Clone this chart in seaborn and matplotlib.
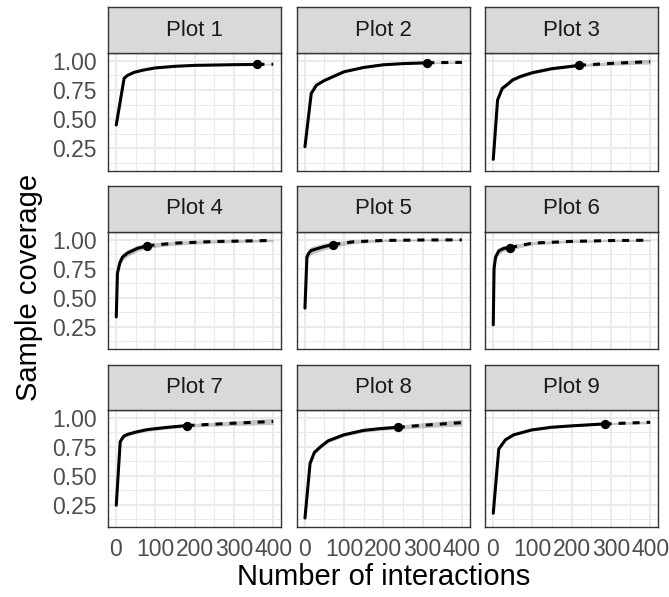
import matplotlib
matplotlib.use("Agg")
import matplotlib.pyplot as plt
from matplotlib.ticker import FixedLocator
import pandas as pd
import seaborn as sns

# ---- data: sample-coverage curves (interpolated up to the observed sample, extrapolated beyond) ----
plots = [f"Plot {i}" for i in range(1, 10)]

x_p1 = [1, 21, 30, 46, 70, 100, 150, 200, 300, 360, 400]
y_p1 = [0.45, 0.85, 0.875, 0.90, 0.92, 0.938, 0.952, 0.960, 0.966, 0.968, 0.970]
ci_p1 = [0.0, 0.005, 0.005, 0.005, 0.004, 0.004, 0.004, 0.004, 0.004, 0.004, 0.005]

x_p2 = [1, 17, 30, 50, 100, 150, 200, 250, 312, 350, 400]
y_p2 = [0.264, 0.72, 0.79, 0.83, 0.905, 0.942, 0.965, 0.975, 0.982, 0.984, 0.986]
ci_p2 = [0.0, 0.008, 0.008, 0.008, 0.007, 0.006, 0.006, 0.006, 0.006, 0.008, 0.010]

x_p3 = [1, 12, 24, 36, 50, 70, 100, 150, 200, 219, 300, 400]
y_p3 = [0.156, 0.664, 0.764, 0.795, 0.835, 0.865, 0.897, 0.932, 0.952, 0.961, 0.977, 0.992]
ci_p3 = [0.0, 0.016, 0.016, 0.016, 0.015, 0.014, 0.013, 0.012, 0.012, 0.012, 0.016, 0.020]

x_p4 = [1, 4, 10, 17, 30, 55, 80, 150, 250, 400]
y_p4 = [0.333, 0.71, 0.80, 0.85, 0.885, 0.925, 0.947, 0.970, 0.984, 0.993]
ci_p4 = [0.0, 0.03, 0.032, 0.032, 0.03, 0.026, 0.022, 0.018, 0.014, 0.010]

x_p5 = [1, 6, 10, 16, 30, 50, 73, 125, 200, 300, 400]
y_p5 = [0.409, 0.85, 0.88, 0.905, 0.92, 0.94, 0.958, 0.982, 0.993, 0.997, 0.998]
ci_p5 = [0.0, 0.032, 0.034, 0.034, 0.032, 0.028, 0.024, 0.016, 0.010, 0.007, 0.006]

x_p6 = [1, 3, 7, 15, 28, 44, 100, 200, 300, 400]
y_p6 = [0.264, 0.75, 0.85, 0.903, 0.925, 0.932, 0.970, 0.985, 0.992, 0.995]
ci_p6 = [0.0, 0.026, 0.028, 0.028, 0.025, 0.022, 0.015, 0.010, 0.008, 0.007]

x_p7 = [1, 11, 20, 30, 50, 80, 130, 182, 300, 400]
y_p7 = [0.244, 0.792, 0.84, 0.856, 0.875, 0.897, 0.916, 0.932, 0.952, 0.967]
ci_p7 = [0.0, 0.016, 0.016, 0.016, 0.015, 0.014, 0.014, 0.014, 0.020, 0.026]

x_p8 = [1, 14, 25, 41, 60, 100, 150, 191, 237, 300, 400]
y_p8 = [0.133, 0.605, 0.70, 0.75, 0.80, 0.852, 0.89, 0.905, 0.917, 0.934, 0.957]
ci_p8 = [0.0, 0.016, 0.016, 0.016, 0.016, 0.015, 0.015, 0.016, 0.017, 0.022, 0.028]

x_p9 = [1, 15, 32, 53, 99, 149, 200, 284, 340, 400]
y_p9 = [0.175, 0.729, 0.809, 0.852, 0.894, 0.917, 0.929, 0.946, 0.953, 0.960]
ci_p9 = [0.0, 0.008, 0.008, 0.008, 0.008, 0.008, 0.008, 0.009, 0.010, 0.012]

obs_x = [360, 312, 219, 80, 73, 44, 182, 237, 284]

x_ticks = [0, 100, 200, 300, 400]
y_ticks = [0.25, 0.50, 0.75, 1.00]
y_tick_labels = ["0.25", "0.50", "0.75", "1.00"]

xs = [x_p1, x_p2, x_p3, x_p4, x_p5, x_p6, x_p7, x_p8, x_p9]
ys = [y_p1, y_p2, y_p3, y_p4, y_p5, y_p6, y_p7, y_p8, y_p9]
cis = [ci_p1, ci_p2, ci_p3, ci_p4, ci_p5, ci_p6, ci_p7, ci_p8, ci_p9]

rows = []
for name, xv, yv, cv, ox in zip(plots, xs, ys, cis, obs_x):
    for x, y, c in zip(xv, yv, cv):
        if x <= ox:
            rows.append(dict(plot=name, m=x, sc=y, lo=y - c, hi=y + c, method="Interpolated"))
        if x >= ox:
            rows.append(dict(plot=name, m=x, sc=y, lo=y - c, hi=y + c, method="Extrapolated"))
df = pd.DataFrame(rows)

# ---- theme ----
sns.set_theme(style="white")
plt.rcParams["font.family"] = ["Liberation Sans", "DejaVu Sans"]

W, H = 669, 597
fig = plt.figure(figsize=(W / 100, H / 100), dpi=100)

col_left = [108, 296.7, 485]
panel_w = 173
strip_top = [7, 186, 365]
panel_top = [53, 232, 410]
panel_bot = [171, 349, 527]


def rect(left, top, w, h):
    return [left / W, 1 - (top + h) / H, w / W, h / H]


border = "#333333"
grid = "#EBEBEB"

for i, name in enumerate(plots):
    r, c = divmod(i, 3)
    ax = fig.add_axes(rect(col_left[c], panel_top[r], panel_w, panel_bot[r] - panel_top[r]))
    sub = df[df["plot"] == name]

    for meth in ["Interpolated", "Extrapolated"]:
        seg = sub[sub["method"] == meth]
        ax.fill_between(seg["m"], seg["lo"], seg["hi"], color="black", alpha=0.22, lw=0, zorder=2)

    sns.lineplot(data=sub, x="m", y="sc", style="method",
                 dashes={"Interpolated": "", "Extrapolated": (2.3, 2.3)},
                 color="black", linewidth=2.2, estimator=None, sort=False,
                 legend=False, ax=ax, zorder=3)
    obs = sub[(sub["m"] == obs_x[i]) & (sub["method"] == "Interpolated")]
    sns.scatterplot(data=obs, x="m", y="sc", color="black", s=45, linewidth=0,
                    ax=ax, zorder=4, legend=False)

    ax.set_xlim(-20, 420)
    ax.set_ylim(0.056, 1.066)
    ax.xaxis.set_major_locator(FixedLocator(x_ticks))
    ax.xaxis.set_minor_locator(FixedLocator([50, 150, 250, 350]))
    ax.yaxis.set_major_locator(FixedLocator(y_ticks))
    ax.yaxis.set_minor_locator(FixedLocator([0.125, 0.375, 0.625, 0.875]))
    ax.grid(True, which="major", color=grid, lw=1.5)
    ax.grid(True, which="minor", color=grid, lw=0.75)
    ax.set_axisbelow(True)
    ax.set_facecolor("white")
    for sp in ax.spines.values():
        sp.set_color(border)
        sp.set_linewidth(1.0)
    ax.set_xlabel("")
    ax.set_ylabel("")
    ax.tick_params(which="minor", length=0)
    ax.tick_params(axis="both", which="major", length=5, width=1.1, color=border,
                   labelsize=16.5, labelcolor="#4D4D4D", pad=3)
    if c == 0:
        ax.set_yticklabels(y_tick_labels)
    else:
        ax.tick_params(axis="y", which="major", length=0, labelleft=False)
    if r == 2:
        ax.set_xticklabels([str(t) for t in x_ticks])
        ax.tick_params(axis="x", pad=3)
    else:
        ax.tick_params(axis="x", which="major", length=0, labelbottom=False)

    sax = fig.add_axes(rect(col_left[c], strip_top[r], panel_w, panel_top[r] - strip_top[r]))
    sax.set_facecolor("#D9D9D9")
    sax.set_xticks([])
    sax.set_yticks([])
    for sp in sax.spines.values():
        sp.set_color(border)
        sp.set_linewidth(1.0)
    sax.text(0.5, 0.5, name, ha="center", va="center", fontsize=16, color="#1A1A1A",
             transform=sax.transAxes)

fig.text(384 / W, 1 - 577 / H, "Number of interactions", ha="center", va="center",
         fontsize=21, color="black")
fig.text(29 / W, 1 - 287 / H, "Sample coverage", ha="center", va="center",
         rotation=90, fontsize=21, color="black")

fig.savefig("out.png", dpi=100, facecolor="white")
